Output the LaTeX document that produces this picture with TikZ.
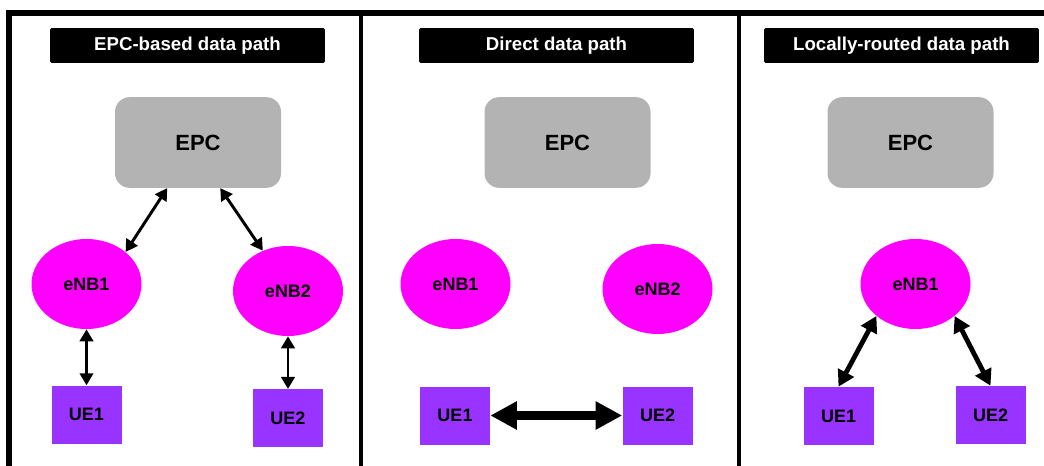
\documentclass[tikz,border=0pt]{standalone}
\usepackage{fontspec}
\setmainfont{Liberation Sans}
\usetikzlibrary{shapes.geometric, arrows.meta, positioning}
\definecolor{enbpink}{HTML}{FF00FF}
\definecolor{uepurple}{HTML}{9933FF}
\definecolor{epcgray}{HTML}{B3B3B3}
\tikzset{
    banner/.style={rectangle, fill=black, text=white, rounded corners=1pt, minimum width=206pt, minimum height=26pt, inner sep=0pt, font=\fontsize{14}{16}\selectfont\bfseries},
    core/.style={rectangle, fill=epcgray, rounded corners=11pt, minimum width=124.5pt, minimum height=68pt, inner sep=0pt, font=\fontsize{16.5}{19}\selectfont\bfseries},
    enb/.style={ellipse, fill=enbpink, minimum width=82.5pt, minimum height=67.5pt, inner sep=0pt, font=\fontsize{13.5}{16}\selectfont\bfseries},
    ue/.style={rectangle, fill=uepurple, minimum width=52.5pt, minimum height=43.5pt, inner sep=0pt, font=\fontsize{13.5}{16}\selectfont\bfseries},
    link/.style={line width=2.2pt, {Triangle[length=9pt,width=10pt]}-{Triangle[length=9pt,width=10pt]}},
    direct/.style={line width=6.5pt, {Triangle[length=20pt,width=20pt]}-{Triangle[length=20pt,width=20pt]}},
    local/.style={line width=3.6pt, {Triangle[length=12pt,width=13pt]}-{Triangle[length=12pt,width=13pt]}}
}
\begin{document}
\begin{tikzpicture}[x=0.75pt, y=-0.75pt]
    \useasboundingbox (0,0) rectangle (1044,466);

    % Frame and panel dividers
    \draw[line width=4.5pt] (9,466) -- (9,13) -- (1044,13);
    \draw[line width=3.5pt] (361,13) -- (361,466);
    \draw[line width=3pt] (739,13) -- (739,466);

    % Left panel: EPC-based data path
    \node (title1) [banner] at (187.5,45.5) {EPC-based data path};
    \node (epc1) [core] at (198,142.5) {EPC};
    \node (enb11) [enb] at (86.5,284) {eNB1};
    \node (enb12) [enb] at (288,291) {eNB2};
    \node (ue11) [ue, below=42pt of enb11] {UE1};
    \node (ue12) [ue, below=39.5pt of enb12] {UE2};

    \draw [link] (epc1.236) -- (enb11.north east);
    \draw [link] (epc1.-64) -- (enb12.122);
    \draw [link] (enb11) -- (ue11);
    \draw [link] (enb12) -- (ue12);

    % Middle panel: Direct data path
    \node (title2) [banner] at (556.5,45.5) {Direct data path};
    \node (epc2) [core] at (567.5,142.5) {EPC};
    \node (enb21) [enb] at (455.5,284) {eNB1};
    \node (enb22) [enb] at (657.5,289) {eNB2};
    \node (ue21) [ue] at (455,415.5) {UE1};
    \node (ue22) [ue] at (657.5,415.5) {UE2};

    \draw [direct] (ue21) -- (ue22);

    % Right panel: Locally-routed data path
    \node (title3) [banner] at (901.5,45.5) {Locally-routed data path};
    \node (epc3) [core] at (910.5,142.5) {EPC};
    \node (enb31) [enb] at (915.5,284) {eNB1};
    \node (ue31) [ue] at (838.5,416) {UE1};
    \node (ue32) [ue] at (990.5,415) {UE2};

    \draw [local] (enb31.south west) -- (ue31.north);
    \draw [local] (enb31.south east) -- (ue32.north);

\end{tikzpicture}
\end{document}
